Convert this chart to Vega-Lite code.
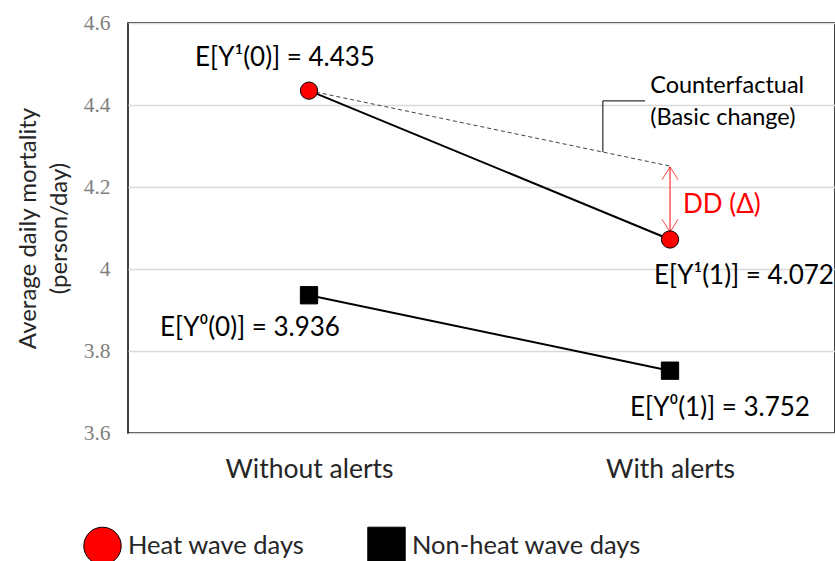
{
  "$schema": "https://vega.github.io/schema/vega-lite/v6.json",
  "width": 707,
  "height": 410,
  "autosize": {"type": "none"},
  "padding": {"left": 128, "top": 23, "right": 0, "bottom": 128},
  "background": "white",
  "config": {
    "view": {"stroke": "black", "strokeWidth": 1.5},
    "font": "Lato"
  },
  "datasets": {
    "pts": [
      {"period": "Without alerts", "x": 0, "group": "Heat wave days", "value": 4.435, "label": "E[Y¹(0)] = 4.435"},
      {"period": "With alerts", "x": 1, "group": "Heat wave days", "value": 4.072, "label": "E[Y¹(1)] = 4.072"},
      {"period": "Without alerts", "x": 0, "group": "Non-heat wave days", "value": 3.936, "label": "E[Y⁰(0)] = 3.936"},
      {"period": "With alerts", "x": 1, "group": "Non-heat wave days", "value": 3.752, "label": "E[Y⁰(1)] = 3.752"}
    ],
    "cf": [
      {"x": 0, "value": 4.435},
      {"x": 1, "value": 4.251}
    ],
    "leader": [
      {"order": 1, "x": 0.814, "value": 4.285},
      {"order": 2, "x": 0.814, "value": 4.41},
      {"order": 3, "x": 0.931, "value": 4.41}
    ],
    "arrow": [
      {"x": 1, "from": 4.249, "to": 4.09}
    ],
    "notes": [
      {"x": 0.945, "value": 4.446, "text": "Counterfactual"},
      {"x": 0.945, "value": 4.368, "text": "(Basic change)"}
    ],
    "dd": [
      {"x": 1, "value": 4.156, "text": "DD (Δ)"}
    ]
  },
  "encoding": {
    "x": {
      "field": "x", "type": "quantitative",
      "scale": {"domain": [-0.5014, 1.457], "nice": false, "zero": false},
      "axis": {
        "values": [0, 1],
        "labelExpr": "datum.value == 0 ? 'Without alerts' : 'With alerts'",
        "title": null, "grid": false, "domain": false, "ticks": false,
        "labelFontSize": 26.5, "labelColor": "#262626", "labelPadding": 23, "labelFont": "Lato"
      }
    },
    "y": {
      "field": "value", "type": "quantitative",
      "scale": {"domain": [3.6, 4.6], "nice": false, "zero": false},
      "axis": {
        "values": [3.6, 3.8, 4.0, 4.2, 4.4, 4.6],
        "format": "~g",
        "title": ["Average daily mortality", "(person/day)"],
        "titleFont": "Lato", "titleFontSize": 24, "titleFontWeight": "normal", "titleColor": "#262626",
        "titlePadding": 12, "titleLineHeight": 31,
        "labelFont": "Liberation Serif", "labelFontSize": 21.5, "labelColor": "#7f7f7f", "labelPadding": 18,
        "domain": false, "ticks": false, "grid": true, "gridColor": "#d9d9d9", "gridWidth": 1.5
      }
    }
  },
  "layer": [
    {
      "data": {"name": "cf"},
      "mark": {"type": "line", "color": "#404040", "strokeWidth": 1, "strokeDash": [4, 3]},
      "encoding": {}
    },
    {
      "data": {"name": "leader"},
      "mark": {"type": "line", "color": "black", "strokeWidth": 1},
      "encoding": {"order": {"field": "order"}}
    },
    {
      "data": {"name": "pts"},
      "mark": {"type": "line", "color": "black", "strokeWidth": 2},
      "encoding": {"detail": {"field": "group"}}
    },
    {
      "data": {"name": "arrow"},
      "mark": {"type": "rule", "color": "red", "strokeWidth": 1},
      "encoding": {"y": {"field": "from", "type": "quantitative"}, "y2": {"field": "to"}}
    },
    {
      "data": {"name": "arrow"},
      "mark": {"type": "point", "shape": "M-1,1.6L0,0L1,1.6", "filled": false, "color": "red", "size": 260, "strokeWidth": 1},
      "encoding": {"y": {"field": "from", "type": "quantitative"}}
    },
    {
      "data": {"name": "arrow"},
      "mark": {"type": "point", "shape": "M-1,-1.6L0,0L1,-1.6", "filled": false, "color": "red", "size": 260, "strokeWidth": 1},
      "encoding": {"y": {"field": "to", "type": "quantitative"}}
    },
    {
      "data": {"name": "pts"},
      "mark": {"type": "point", "filled": true, "opacity": 1, "stroke": "black", "strokeWidth": 1, "size": 300},
      "encoding": {
        "color": {
          "field": "group", "type": "nominal",
          "scale": {"domain": ["Heat wave days", "Non-heat wave days"], "range": ["#ff0000", "#000000"]},
          "legend": {
            "title": null, "orient": "none", "direction": "horizontal",
            "legendX": -45, "legendY": 503, "padding": 0,
            "symbolSize": 1400, "symbolStrokeColor": "black", "symbolStrokeWidth": 1, "symbolOpacity": 1,
            "labelFontSize": 25.5, "labelFont": "Lato", "labelColor": "#262626", "labelOffset": 6,
            "labelLimit": 400, "columnPadding": 60
          }
        },
        "shape": {
          "field": "group", "type": "nominal",
          "scale": {"domain": ["Heat wave days", "Non-heat wave days"], "range": ["circle", "square"]}
        }
      }
    },
    {
      "data": {"name": "pts"},
      "transform": [{"filter": "datum.value == 4.435"}],
      "mark": {"type": "text", "fontSize": 26, "font": "Lato", "color": "black", "dx": -24, "dy": -33},
      "encoding": {"text": {"field": "label"}}
    },
    {
      "data": {"name": "pts"},
      "transform": [{"filter": "datum.value == 4.072"}],
      "mark": {"type": "text", "fontSize": 26, "font": "Lato", "color": "black", "dx": 74, "dy": 37},
      "encoding": {"text": {"field": "label"}}
    },
    {
      "data": {"name": "pts"},
      "transform": [{"filter": "datum.value == 3.936"}],
      "mark": {"type": "text", "fontSize": 26, "font": "Lato", "color": "black", "dx": -59, "dy": 33},
      "encoding": {"text": {"field": "label"}}
    },
    {
      "data": {"name": "pts"},
      "transform": [{"filter": "datum.value == 3.752"}],
      "mark": {"type": "text", "fontSize": 26, "font": "Lato", "color": "black", "dx": 50, "dy": 37},
      "encoding": {"text": {"field": "label"}}
    },
    {
      "data": {"name": "notes"},
      "mark": {"type": "text", "fontSize": 23.5, "font": "Lato", "color": "black", "align": "left"},
      "encoding": {"text": {"field": "text"}}
    },
    {
      "data": {"name": "dd"},
      "mark": {"type": "text", "fontSize": 26, "font": "Lato", "color": "red", "align": "left", "dx": 13},
      "encoding": {"text": {"field": "text"}}
    }
  ]
}
